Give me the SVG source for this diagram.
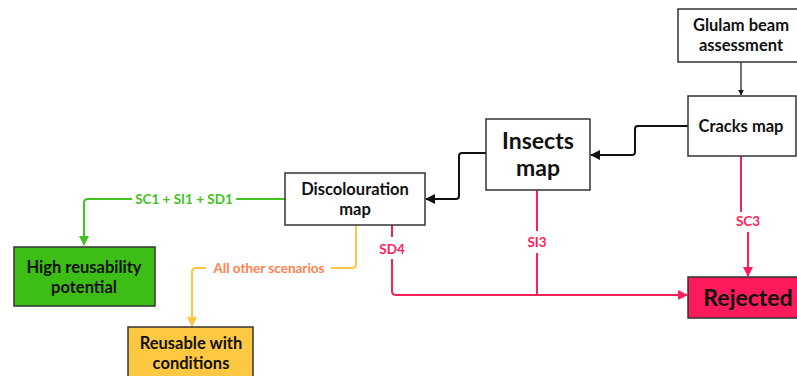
<svg xmlns="http://www.w3.org/2000/svg" width="797" height="376" viewBox="0 0 797 376">
<style>
.box{stroke:#333;stroke-width:1.5}
.t{font-family:Lato,"Liberation Sans",sans-serif;font-weight:bold;fill:#111;text-anchor:middle}
.lbl{font-family:Lato,"Liberation Sans",sans-serif;font-weight:bold;font-size:13.5px;text-anchor:middle}
.c{fill:none;stroke-linejoin:round}
</style>
<defs>
<marker id="ab" viewBox="0 0 10 10" refX="9" refY="5" markerWidth="5" markerHeight="5" orient="auto"><path d="M0,0 L10,5 L0,10 z" fill="#111"/></marker>
<marker id="ar" viewBox="0 0 10 10" refX="9" refY="5" markerWidth="5" markerHeight="5" orient="auto"><path d="M0,0 L10,5 L0,10 z" fill="#ff1f5a"/></marker>
<marker id="ag" viewBox="0 0 10 10" refX="9" refY="5" markerWidth="5" markerHeight="5" orient="auto"><path d="M0,0 L10,5 L0,10 z" fill="#44c21f"/></marker>
<marker id="ay" viewBox="0 0 10 10" refX="9" refY="5" markerWidth="5" markerHeight="5" orient="auto"><path d="M0,0 L10,5 L0,10 z" fill="#ffc640"/></marker>
</defs>
<rect width="797" height="376" fill="#fff"/>
<g id="connectors">
<path class="c" d="M741,62 L741,95" stroke="#111" stroke-width="1.2" marker-end="url(#ab)"/>
<path class="c" d="M688,126 L638,126 Q635,126 635,129 L635,152 Q635,155 632,155 L591,155" stroke="#111" stroke-width="2" marker-end="url(#ab)"/>
<path class="c" d="M486,153 L462,153 Q459,153 459,156 L459,196 Q459,199 456,199 L426,199" stroke="#111" stroke-width="2" marker-end="url(#ab)"/>
<path class="c" d="M741,156 L741,212" stroke="#ff1f5a" stroke-width="2"/>
<path class="c" d="M748,232 L748,276" stroke="#ff1f5a" stroke-width="2" marker-end="url(#ar)"/>
<text class="lbl" x="748" y="226" fill="#ff1f5a">SC3</text>
<path class="c" d="M392,225 L392,237" stroke="#ff1f5a" stroke-width="2"/>
<path class="c" d="M392,259 L392,291 Q392,295 396,295 L687,295" stroke="#ff1f5a" stroke-width="2" marker-end="url(#ar)"/>
<text class="lbl" x="392" y="254" fill="#ff1f5a">SD4</text>
<path class="c" d="M537,190 L537,231" stroke="#ff1f5a" stroke-width="2"/>
<path class="c" d="M537,253 L537,295" stroke="#ff1f5a" stroke-width="2"/>
<text class="lbl" x="537" y="247" fill="#ff1f5a">SI3</text>
<path class="c" d="M285,199 L236,199" stroke="#44c21f" stroke-width="2"/>
<path class="c" d="M132,199 L88,199 Q84,199 84,203 L84,245" stroke="#44c21f" stroke-width="2" marker-end="url(#ag)"/>
<text class="lbl" x="184" y="204" fill="#44c21f">SC1 + SI1 + SD1</text>
<path class="c" d="M356,225 L356,264 Q356,268 352,268 L331,268" stroke="#ffc640" stroke-width="2"/>
<path class="c" d="M206,268 L196,268 Q192,268 192,272 L192,326" stroke="#ffc640" stroke-width="2" marker-end="url(#ay)"/>
<text class="lbl" x="269" y="273" fill="#ff7f50">All other scenarios</text>
</g>
<g id="glulam">
<rect class="box" x="678" y="9" width="125" height="53" fill="#fff"/>
<text class="t" x="741" y="31" font-size="16.5">Glulam beam</text>
<text class="t" x="741" y="51" font-size="16.5">assessment</text>
</g>
<g id="cracks">
<rect class="box" x="688" y="96" width="108" height="60" fill="#fff"/>
<text class="t" x="741" y="132" font-size="16.5">Cracks map</text>
</g>
<g id="insects">
<rect class="box" x="486" y="119" width="104" height="71" fill="#fff"/>
<text class="t" x="538" y="149" font-size="23">Insects</text>
<text class="t" x="538" y="176" font-size="23">map</text>
</g>
<g id="discolouration">
<rect class="box" x="285" y="173" width="140" height="52" fill="#fff"/>
<text class="t" x="355" y="195" font-size="16.5">Discolouration</text>
<text class="t" x="355" y="215" font-size="16.5">map</text>
</g>
<g id="high">
<rect class="box" x="14" y="247" width="141" height="59" fill="#3dbe16"/>
<text class="t" x="84" y="273" font-size="16.5">High reusability</text>
<text class="t" x="84" y="293" font-size="16.5">potential</text>
</g>
<g id="reusable">
<rect class="box" x="128" y="327" width="125" height="55" fill="#fec843"/>
<text class="t" x="191" y="349" font-size="16.5">Reusable with</text>
<text class="t" x="191" y="369" font-size="16.5">conditions</text>
</g>
<g id="rejected">
<rect class="box" x="688" y="277" width="115" height="41" fill="#ff1a5b"/>
<text class="t" x="748" y="306" font-size="23">Rejected</text>
</g>
</svg>
